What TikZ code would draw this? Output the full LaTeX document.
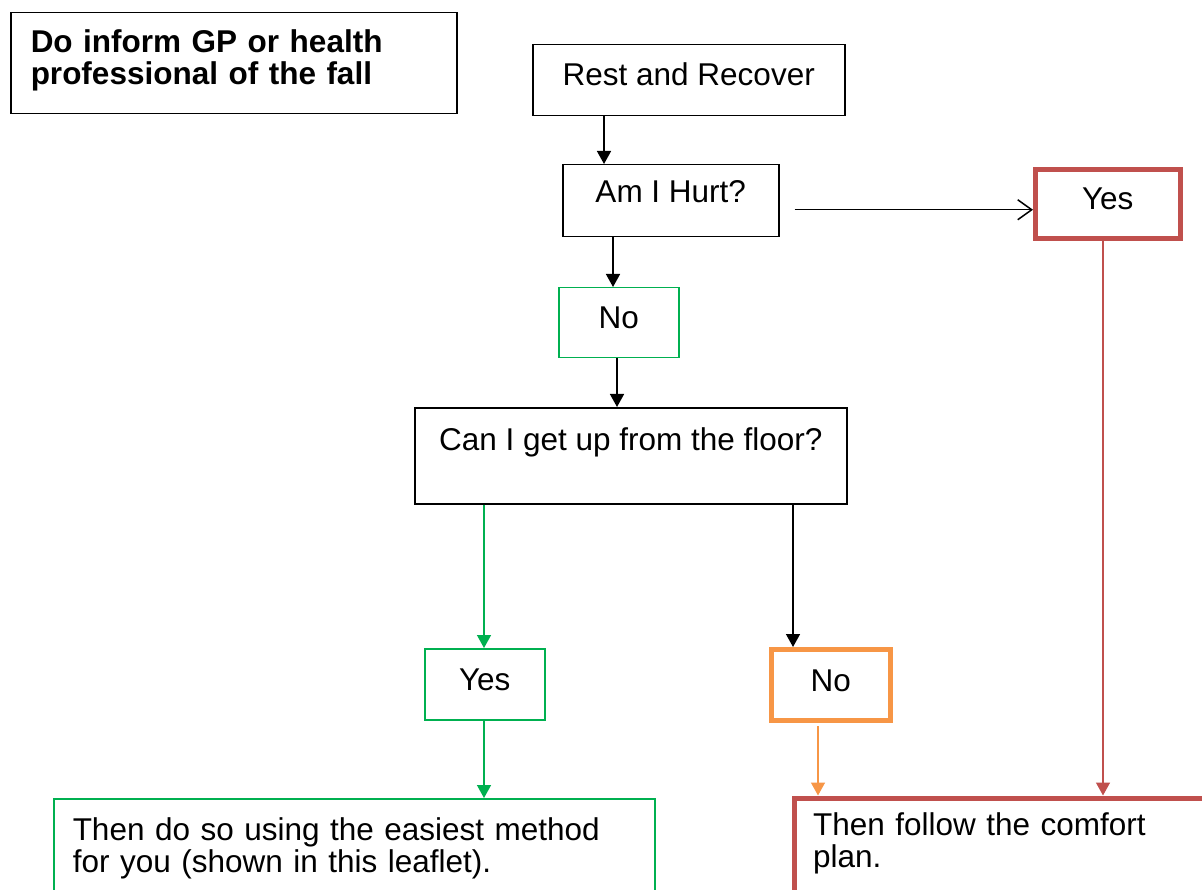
\documentclass[tikz,border=0pt]{standalone}
\usepackage{fontspec}
\setmainfont{Liberation Sans}
\usepackage{tikz}
\usetikzlibrary{arrows.meta, calc}
\definecolor{okgreen}{HTML}{00B050}
\definecolor{warnorange}{HTML}{F79646}
\definecolor{alertred}{HTML}{C0504D}

\begin{document}
\begin{tikzpicture}[
    x=1pt, y=-1pt,
    flowbox/.style={
        draw, anchor=north west, inner xsep=0pt, inner ysep=0pt,
        line width=1.5pt, align=center,
        font=\fontsize{31.5}{32.5}\selectfont,
    },
    notebox/.style={
        flowbox, inner xsep=19pt, align=left,
    },
    thickbox/.style={flowbox, line width=5pt},
    flowarrow/.style={
        line width=1.5pt,
        -{Triangle[length=13pt, width=14pt]},
    },
    openarrow/.style={
        line width=1.5pt,
        -{Straight Barb[length=14pt, width=20pt]},
    },
]

\fill[white] (0,0) rectangle (1202,890);
\useasboundingbox (0,0) rectangle (1202,890);
\clip (0,0) rectangle (1202,890);

% =============================================
% Header note
% =============================================
\node[notebox, inner xsep=20pt, text width=406pt, text height=40pt, text depth=61pt,
      font=\fontsize{31.5}{31.5}\selectfont\bfseries] (inform) at (10,12)
  {Do inform GP or health\\professional of the fall};

% =============================================
% Main column
% =============================================
\node[flowbox, minimum width=312pt, text height=41pt, text depth=30pt]
  (rest) at (532,44) {Rest and Recover};
\node[flowbox, minimum width=216pt, text height=37.5pt, text depth=34.5pt]
  (hurt) at (562,164) {Am I Hurt?};
\node[flowbox, okgreen, text=black, minimum width=120pt, text height=41pt, text depth=29pt]
  (nohurt) at (558,287) {No};
\node[flowbox, minimum width=432pt, text height=43pt, text depth=53pt]
  (getup) at (414,407) {Can I get up from the floor?};

% Hurt branch
\node[thickbox, alertred, text=black, minimum width=144.5pt, text height=40.5pt, text depth=29pt]
  (yeshurt) at (1033,167) {Yes};

% Floor answers
\node[flowbox, okgreen, text=black, minimum width=120pt, text height=42pt, text depth=29pt]
  (yesup) at (424,648) {Yes};
\node[thickbox, warnorange, text=black, minimum width=119.5pt, text height=42pt, text depth=29pt]
  (noup) at (768.5,647) {No};

% =============================================
% Outcomes (run off the page)
% =============================================
\node[notebox, okgreen, text=black, text width=563pt, text height=41.5pt, text depth=100pt]
  (easiest) at (53,798)
  {Then do so using the easiest method\\for you (shown in this leaflet).};
\node[notebox, alertred, text=black, line width=5pt, text width=440pt, text height=37pt, text depth=100pt]
  (comfort) at (791.5,795.5)
  {Then follow the comfort\\plan.};

% =============================================
% Connectors
% =============================================
\draw[flowarrow] (rest.south -| 604,0) -- (hurt.north -| 604,0);
\draw[flowarrow] (hurt.south -| 613,0) -- (nohurt.north -| 613,0);
\draw[flowarrow] (nohurt.south -| 617,0) -- (getup.north -| 617,0);
\draw[openarrow] ([xshift=15pt, yshift=-9pt]hurt.east) coordinate (hurtout)
  -- (hurtout -| yeshurt.west);
\draw[flowarrow, okgreen] (getup.south -| 484,0) -- (yesup.north -| 484,0);
\draw[flowarrow] (getup.south -| 793,0) -- (noup.north -| 793,0);
\draw[flowarrow, okgreen] (yesup.south -| 484,0) -- (easiest.north -| 484,0);
\draw[flowarrow, warnorange, shorten <=3pt] (noup.south -| 818,0) -- (comfort.north -| 818,0);
\draw[flowarrow, alertred] (yeshurt.south -| 1103,0) -- (comfort.north -| 1103,0);

\end{tikzpicture}
\end{document}
